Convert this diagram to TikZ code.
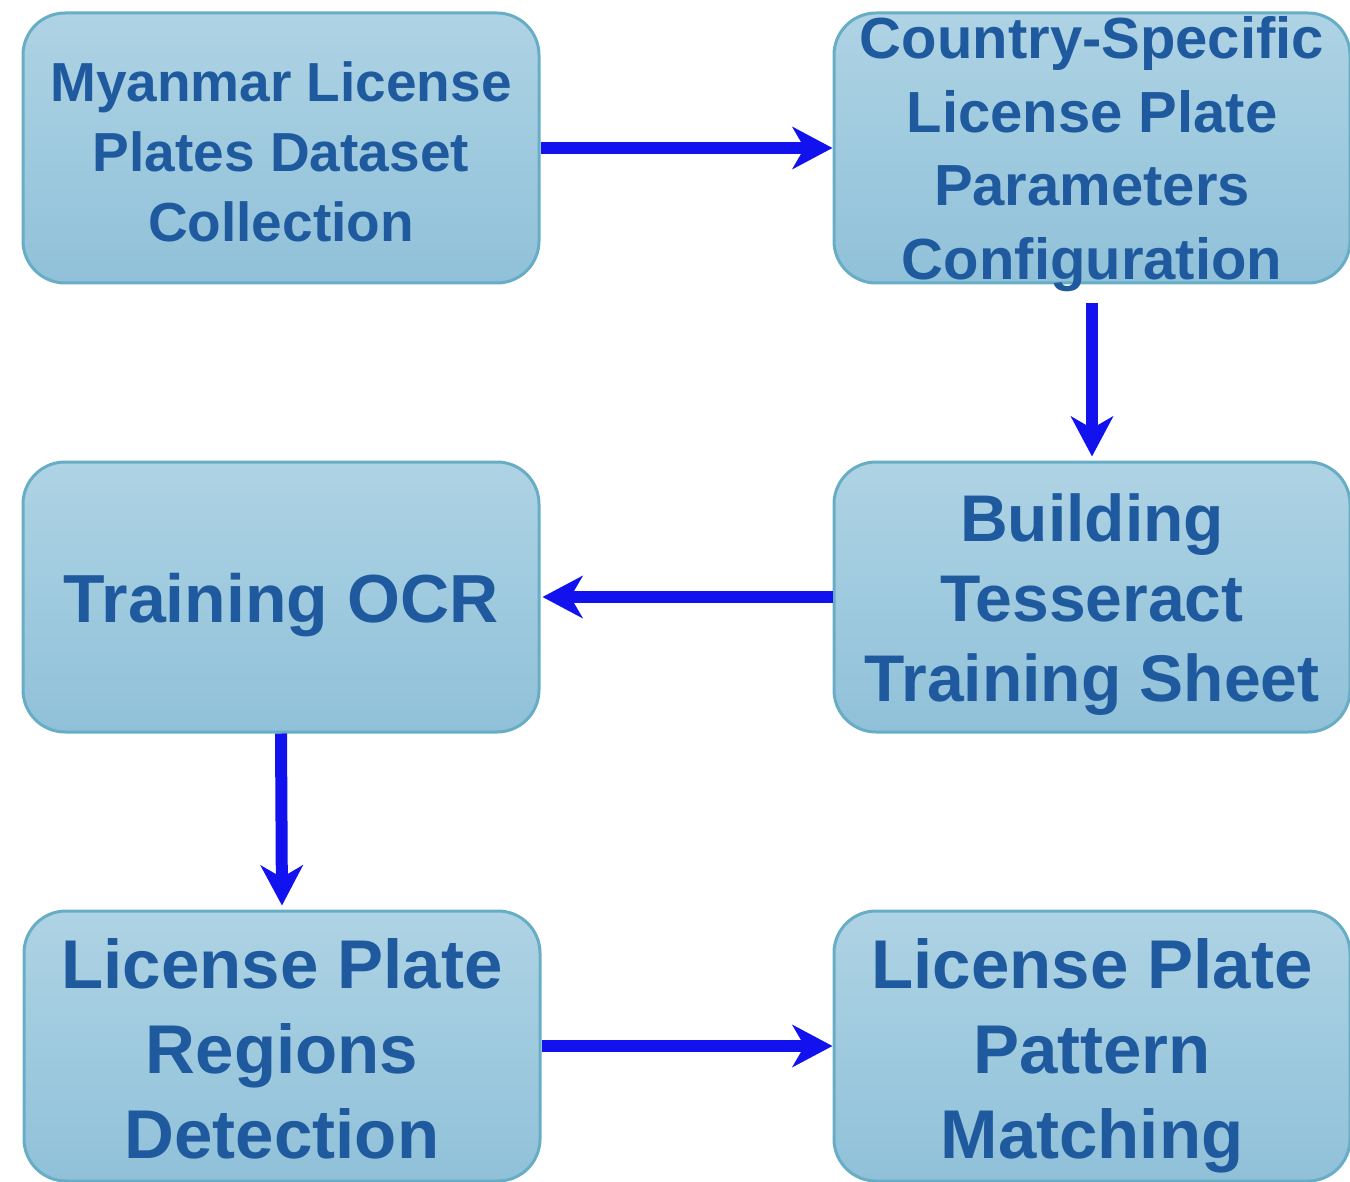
\documentclass[tikz,border=0pt]{standalone}
\usepackage{fontspec}
\setmainfont{Liberation Sans}
\usetikzlibrary{arrows.meta}
\definecolor{boxtop}{HTML}{AED3E4}
\definecolor{boxbot}{HTML}{90C1D9}
\definecolor{boxedge}{HTML}{68ADC6}
\definecolor{boxtext}{HTML}{1F5A9F}
\definecolor{flow}{HTML}{1212EE}
\begin{document}
\begin{tikzpicture}[x=1pt,y=-1pt,
  stagebox/.style={draw=boxedge, line width=3pt, rounded corners=42pt,
    top color=boxtop, bottom color=boxbot,
    minimum width=516pt, minimum height=270pt, inner sep=0pt},
  stagetext/.style={align=center, text=boxtext, inner sep=0pt},
  flowarrow/.style={draw=flow, line width=12pt,
    -{Stealth[length=40pt,width=42pt,inset=12pt]}}]
\useasboundingbox (0,0) rectangle (1350,1182);
% process stages
\node[stagebox] (collect) at (281,148) {};
\node[stagebox] (config) at (1092,148) {};
\node[stagebox] (ocr) at (281,597) {};
\node[stagebox] (sheet) at (1092,597) {};
\node[stagebox] (detect) at (282,1046) {};
\node[stagebox] (match) at (1092,1046) {};
% stage captions
\node[stagetext, font=\bfseries\fontsize{55}{70}\selectfont] (collect-text)
  at ([yshift=-4pt]collect.center) {Myanmar License\\Plates Dataset\\Collection};
\node[stagetext, font=\bfseries\fontsize{58}{73.5}\selectfont] (config-text)
  at ([yshift=-6pt]config.center) {Country-Specific\\License Plate\\Parameters\\Configuration};
\node[stagetext, font=\bfseries\fontsize{68}{80}\selectfont] (ocr-text)
  at ([yshift=-8pt]ocr.center) {Training OCR};
\node[stagetext, font=\bfseries\fontsize{66}{80}\selectfont] (sheet-text)
  at ([yshift=-8pt]sheet.center) {Building\\Tesseract\\Training Sheet};
\node[stagetext, font=\bfseries\fontsize{69}{85}\selectfont] (detect-text)
  at ([yshift=-3pt]detect.center) {License Plate\\Regions\\Detection};
\node[stagetext, font=\bfseries\fontsize{69}{85}\selectfont] (match-text)
  at ([yshift=-10pt]match.center) {License Plate\\Pattern\\Matching};
% flow between stages
\draw[flowarrow] (collect.east) -- (config.west);
\draw[flowarrow, shorten <=19pt, shorten >=4pt] (config.south) -- (sheet.north);
\draw[flowarrow, shorten >=2pt] (sheet.west) -- (ocr.east);
\draw[flowarrow, shorten >=4pt] (ocr.south) -- (detect.north);
\draw[flowarrow] (detect.east) -- (match.west);
\end{tikzpicture}
\end{document}
